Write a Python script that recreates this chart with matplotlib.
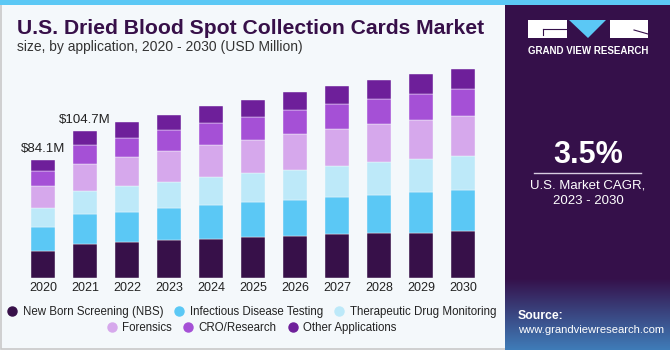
import numpy as np
import matplotlib.pyplot as plt
from matplotlib.patches import Rectangle, Polygon
from matplotlib.lines import Line2D

plt.rcParams["font.family"] = ["Liberation Sans", "DejaVu Sans"]

# values (USD Million)
years = [2020, 2021, 2022, 2023, 2024, 2025, 2026, 2027, 2028, 2029, 2030]
nbs = [19.5, 24.2, 25.7, 27.1, 27.8, 29.2, 29.7, 31.1, 31.8, 32.3, 33.3]
infectious = [16.6, 21.1, 21.4, 22.8, 24.2, 24.9, 26.1, 26.8, 27.6, 28.7, 29.2]
therapeutic = [13.5, 16.4, 18.3, 18.8, 20.0, 20.4, 21.4, 22.1, 23.5, 23.8, 24.2]
forensics = [15.7, 19.5, 20.9, 22.1, 22.8, 24.2, 25.7, 26.1, 26.8, 28.0, 29.0]
cro = [10.7, 13.5, 13.8, 15.0, 15.7, 16.2, 17.1, 17.6, 18.1, 18.5, 19.0]
other = [8.3, 10.2, 11.2, 10.7, 11.9, 12.1, 12.6, 13.1, 13.5, 14.0, 14.3]

series = [nbs, infectious, therapeutic, forensics, cro, other]
names = ["New Born Screening (NBS)", "Infectious Disease Testing",
         "Therapeutic Drug Monitoring", "Forensics", "CRO/Research",
         "Other Applications"]
colors = ["#371049", "#5bc8f5", "#bde9f9", "#d6a8ec", "#a550d6", "#6e1f9a"]
total_labels = {2020: "$84.1M", 2021: "$104.7M"}

W, H = 670, 350
BG = "#f4f8fb"
PURPLE = "#35104a"

fig = plt.figure(figsize=(6.7, 3.5), dpi=100)
fig.patch.set_facecolor(BG)

# decoration layer in pixel coordinates
deco = fig.add_axes([0, 0, 1, 1])
deco.set_xlim(0, W)
deco.set_ylim(H, 0)
deco.axis("off")

deco.add_patch(Rectangle((0.5, 4), 505, 344.5, fill=False, edgecolor="#c9c9c9", lw=1.2))
deco.add_patch(Rectangle((0, 0), W, 4.5, color="#5bc8f5", lw=0))
deco.add_patch(Rectangle((505, 4.5), 165, H - 4.5, color=PURPLE, lw=0))

# bottom gradient of side panel
grad = np.linspace(0, 1, 100)[:, None, None]
top_c = np.array([0x35, 0x10, 0x4a]) / 255
bot_c = np.array([0x3f, 0x7c, 0xb8]) / 255
img = top_c * (1 - grad) + bot_c * grad
deco.imshow(np.repeat(img, 2, axis=1), extent=[505, 670, 350, 278], aspect="auto", zorder=1)

# logo
deco.add_patch(Rectangle((528, 20), 39, 18, color="white", lw=0, zorder=2))
deco.plot([543, 567], [29, 29], color=PURPLE, lw=0.8, zorder=3)
deco.plot([543, 543], [29, 35], color=PURPLE, lw=0.8, zorder=3)
deco.add_patch(Polygon([(569, 20), (606, 20), (588, 38)], color="#5bc8f5", lw=0, zorder=2))
deco.add_patch(Rectangle((610, 20), 38, 18, color="white", lw=0, zorder=2))
deco.plot([634, 648], [30, 34], color=PURPLE, lw=0.8, zorder=3)
deco.text(588, 51, "GRAND VIEW RESEARCH", color="white", fontsize=7, weight="bold",
          ha="center", va="center")

deco.text(588, 155, "3.5%", color="white", fontsize=22, weight="bold", ha="center", va="center")
deco.plot([534, 641], [173, 173], color="#d8cce0", lw=1)
deco.text(588, 185, "U.S. Market CAGR,", color="white", fontsize=9.5, ha="center", va="center")
deco.text(588, 201, "2023 - 2030", color="white", fontsize=9.5, ha="center", va="center")
deco.text(518, 316, "Source:", color="white", fontsize=8.8, weight="bold", va="center", zorder=3)
deco.text(518, 330, "www.grandviewresearch.com", color="white", fontsize=8.1, va="center", zorder=3)

title = deco.text(17, 29, "U.S. Dried Blood Spot Collection Cards Market", color="#371049",
                  fontsize=14, weight="bold", va="center")
subtitle = deco.text(17, 47, "size, by application, 2020 - 2030 (USD Million)", color="#333333",
                     fontsize=9, va="center")

# chart
ax = fig.add_axes([9.4 / W, (H - 278) / H, 487.2 / W, 224.5 / H])
ax.set_facecolor("none")
x = np.arange(len(years))
bottom = np.zeros(len(years))
for vals, name, c in zip(series, names, colors):
    ax.bar(x, vals, width=0.57, bottom=bottom, color=c, edgecolor=BG, linewidth=0.3, label=name)
    bottom += np.array(vals)

for i, yr in enumerate(years):
    if yr in total_labels:
        ax.text(x[i], bottom[i] + 3.5, total_labels[yr], ha="center", va="bottom",
                fontsize=9.5, color="#222222")

ax.set_xlim(-0.8, 10.8)
ax.set_ylim(0, 160)
ax.set_xticks(x, [str(y) for y in years])
ax.tick_params(axis="x", length=0, pad=3, labelsize=9, labelcolor="#222222")
ax.set_yticks([])
for s in ax.spines.values():
    s.set_visible(False)

# legend in two centred rows
handles = [Line2D([], [], marker="o", ls="", markersize=6.5, color=c) for c in colors]
for row, yp in ((slice(0, 3), 312), (slice(3, 6), 328)):
    fig.legend(handles[row], names[row], loc="center", bbox_to_anchor=(252 / W, 1 - yp / H),
               ncol=3, frameon=False, fontsize=8.3, handlelength=0.8, handletextpad=0.5,
               columnspacing=1.0, borderpad=0, labelcolor="#222222")

# fit title widths to the reference
fig.canvas.draw()
for t, target in ((title, 467), (subtitle, 286)):
    w = t.get_window_extent().width
    t.set_fontsize(t.get_fontsize() * target / w)

fig.savefig("out.png", dpi=100, facecolor=fig.get_facecolor())
